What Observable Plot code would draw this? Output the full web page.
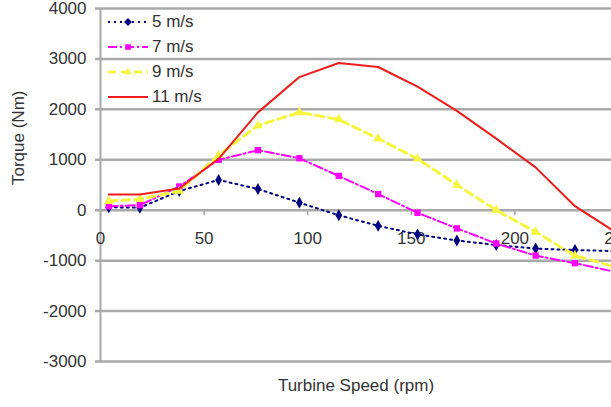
<!DOCTYPE html>
<html><head><meta charset="utf-8">
<script src="https://cdn.jsdelivr.net/npm/d3@7"></script>
<script src="https://cdn.jsdelivr.net/npm/@observablehq/plot@0.6"></script>
<style>
body{margin:0;background:#fff;overflow:hidden;font-family:"Liberation Sans",Arial,sans-serif;}
#wrap{position:relative;width:611px;height:407px;overflow:hidden;}
#legend{position:absolute;left:106px;top:9px;font-size:17px;color:#333;}
.item{display:flex;align-items:center;height:25px;}
.item span{margin-left:4px;}
</style></head><body><div id="wrap"><div id="legend"></div></div>
<script>
const rpm = [4, 19, 38, 57, 76, 96, 115, 134, 153, 172, 191, 210, 229, 248];
const v5  = [60, 50, 380, 600, 420, 150, -100, -310, -480, -600, -690, -760, -790, -810];
const v7  = [80, 100, 470, 1000, 1190, 1030, 680, 320, -50, -360, -660, -900, -1050, -1220];
const v9  = [180, 220, 380, 1090, 1680, 1940, 1800, 1420, 1020, 500, 0, -430, -900, -1120];
const v11 = [310, 310, 430, 1020, 1940, 2640, 2920, 2840, 2450, 1970, 1420, 850, 80, -420];
const seriesNames = ["5 m/s", "7 m/s", "9 m/s", "11 m/s"];
const xTicks = [0, 50, 100, 150, 200, 250];
const yTicks = [-3000, -2000, -1000, 0, 1000, 2000, 3000, 4000];

const colors = ["#000080", "#ff00ff", "#f6f640", "#ee1c1c"];
const dashes = ["2,4", "9,3,2,3", "8,5", null];
const widths = [2, 2, 3, 2];
const symbols = ["diamond", "square", "triangle", null];
const values = [v5, v7, v9, v11];

const series = values.map((vals, i) => rpm.map((r, j) => ({rpm: r, t: vals[j], s: seriesNames[i]})));

const marks = [
  Plot.ruleY(yTicks, {x1: -2.4, x2: 250, stroke: "#a9a9a9", strokeWidth: 2.5}),
  Plot.ruleX([0], {y1: -3000, y2: 4000, stroke: "#a9a9a9", strokeWidth: 2}),
  Plot.ruleX(xTicks, {x: d => d, y1: 0, y2: -110, stroke: "#a9a9a9", strokeWidth: 1.5}),
  Plot.text(yTicks, {x: 0, y: d => d, dx: -14, textAnchor: "end", text: d => String(d), fill: "#333"}),
  Plot.text(xTicks, {x: d => d, y: 0, dy: 28, text: d => String(d), fill: "#333"}),
];
series.forEach((data, i) => {
  marks.push(Plot.line(data, {x: "rpm", y: "t", stroke: colors[i], strokeWidth: widths[i], strokeDasharray: dashes[i]}));
  if (symbols[i]) marks.push(Plot.dot(data, {x: "rpm", y: "t", symbol: symbols[i], fill: colors[i], stroke: "none", r: 3.6}));
});
marks.push(Plot.text(["Torque (Nm)"], {frameAnchor: "left", dx: -82, rotate: -90, text: d => d, fill: "#333"}));
marks.push(Plot.text(["Turbine Speed (rpm)"], {frameAnchor: "bottom", dy: 29, text: d => d, fill: "#333"}));

const chart = Plot.plot({
  width: 611, height: 407,
  marginLeft: 100, marginRight: 0, marginTop: 8, marginBottom: 46,
  x: {domain: [0, 250], range: [100, 618], axis: null},
  y: {domain: [-3000, 4000], range: [361, 8], axis: null},
  style: {fontFamily: "'Liberation Sans', Arial, sans-serif", fontSize: "17px", background: "#fff", color: "#333"},
  marks
});
const wrap = document.getElementById("wrap");
wrap.insertBefore(chart, wrap.firstChild);

// legend (inside plot area, top-left)
const legend = document.getElementById("legend");
seriesNames.forEach((name, i) => {
  const item = document.createElement("div");
  item.className = "item";
  const ns = "http://www.w3.org/2000/svg";
  const svg = document.createElementNS(ns, "svg");
  svg.setAttribute("width", 42); svg.setAttribute("height", 14);
  const ln = document.createElementNS(ns, "line");
  ln.setAttribute("x1", 2); ln.setAttribute("x2", 42); ln.setAttribute("y1", 7); ln.setAttribute("y2", 7);
  ln.setAttribute("stroke", colors[i]); ln.setAttribute("stroke-width", widths[i]);
  if (dashes[i]) ln.setAttribute("stroke-dasharray", dashes[i]);
  svg.appendChild(ln);
  if (symbols[i]) {
    const sym = d3.symbol().type({diamond: d3.symbolDiamond2, square: d3.symbolSquare2, triangle: d3.symbolTriangle2}[symbols[i]]).size(40);
    const p = document.createElementNS(ns, "path");
    p.setAttribute("d", sym()); p.setAttribute("transform", "translate(22,7)");
    p.setAttribute("fill", colors[i]);
    svg.appendChild(p);
  }
  item.appendChild(svg);
  const sp = document.createElement("span");
  sp.textContent = name;
  item.appendChild(sp);
  legend.appendChild(item);
});
</script></body></html>
